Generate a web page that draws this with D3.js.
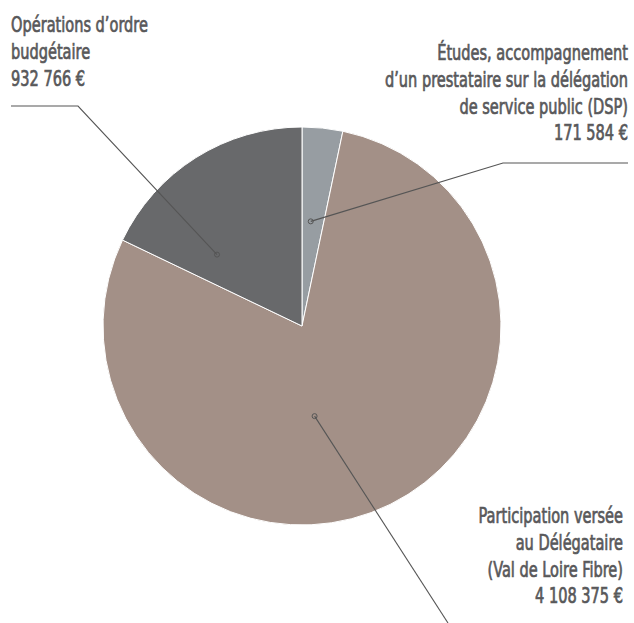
<html>
<body style="margin:0;background:#fff">
<svg width="634" height="623"></svg>
<style>
  .lbl {
    font-family: "DejaVu Sans Condensed", "DejaVu Sans", sans-serif;
    font-stretch: condensed;
    font-size: 21px;
    fill: #58585a;
    stroke: #58585a;
    stroke-width: 0.7px;
  }
  .lead {
    fill: none;
    stroke: #555;
    stroke-width: 1.1;
  }
</style>
<script src="https://d3js.org/d3.v7.min.js"></script>
<script>
// budget lines, in drawing order (clockwise from 12 o'clock)
var categories = ["etudes", "participation", "operations"];
var values = [171584, 4108375, 932766];
var labels = [
  ["Études, accompagnement", "d\u2019un prestataire sur la délégation", "de service public (DSP)", "171 584 €"],
  ["Participation versée", "au Délégataire", "(Val de Loire Fibre)", "4 108 375 €"],
  ["Opérations d\u2019ordre", "budgétaire", "932 766 €"]
];
var colors = ["#979da2", "#a39087", "#68696b"];

var svg = d3.select("svg");
var cx = 302, cy = 326, r = 199;

var g = svg.append("g").attr("transform", "translate(" + cx + "," + cy + ")");

var pie = d3.pie().sort(null).value(function(d) { return d; });
var arc = d3.arc().innerRadius(0).outerRadius(r);
var arcs = pie(values);

g.selectAll("path")
  .data(arcs)
  .enter().append("path")
  .attr("d", arc)
  .attr("fill", function(d, i) { return colors[i]; })
  .attr("stroke", "#fff")
  .attr("stroke-width", 1);

// annotation layout: dot inside slice (angle offset from slice mid, radius), elbow, end, text anchor
var notes = [
  { da: -0.02, rr: 105, elbow: [503, 163], end: [628, 163], tx: 628, ty: 60, anchor: "end" },
  { da: 0.32, rr: 91, elbow: [448, 623], end: [448, 623], tx: 623, ty: 523, anchor: "end" },
  { da: -0.31, rr: 111, elbow: [78, 106], end: [11, 106], tx: 11, ty: 32.5, anchor: "start" }
];

arcs.forEach(function(a, i) {
  var n = notes[i];
  var ang = (a.startAngle + a.endAngle) / 2 + n.da;
  var px = cx + n.rr * Math.sin(ang), py = cy - n.rr * Math.cos(ang);
  svg.append("path")
    .attr("class", "lead")
    .attr("d", d3.line()([[px, py], n.elbow, n.end]));
  svg.append("circle")
    .attr("cx", px).attr("cy", py).attr("r", 2.5)
    .attr("fill", "none").attr("stroke", "#555").attr("stroke-width", 1);

  var tg = svg.append("g").attr("data-x", n.tx);
  var t = tg.append("text")
    .attr("class", "lbl")
    .attr("text-anchor", n.anchor);
  labels[i].forEach(function(s, k) {
    t.append("tspan").attr("x", 0).attr("y", n.ty + k * 26.8).text(s);
  });
});

// squeeze the labels horizontally to mimic the condensed face
var probe = svg.append("text").attr("class", "lbl").text(labels[2][0]);
var sx = 137 / probe.node().getComputedTextLength();
probe.remove();
svg.selectAll("g[data-x]").attr("transform", function() {
  return "translate(" + this.getAttribute("data-x") + ",0) scale(" + sx + ",1)";
});
</script>
</body>
</html>
